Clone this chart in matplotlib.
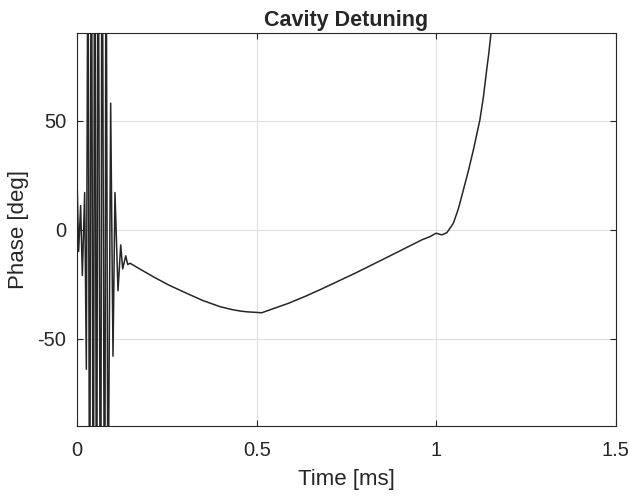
import numpy as np
import matplotlib
matplotlib.use('Agg')
import matplotlib.pyplot as plt

# ---- data ----
# ringing at the start (extremes of the oscillation), time in ms, phase in deg
osc_t = [0.0, 0.0037, 0.0093, 0.0140, 0.0205, 0.0252, 0.0298, 0.0344, 0.0391, 0.0446,
         0.0484, 0.0540, 0.0576, 0.0651, 0.0688, 0.0763, 0.0800, 0.0855, 0.0930, 0.0995,
         0.1050, 0.1134, 0.1210, 0.1265, 0.1349, 0.1405]
osc_v = [18, -10, 11, -21, 17, -64, 160, -180, 200, -200,
         200, -200, 200, -200, 200, -190, 170, -150, 58, -58,
         17, -28, -7, -18, -12, -16]
# smooth part afterwards
curve_t = [0.1469, 0.180, 0.2118, 0.255, 0.3049, 0.350, 0.3977, 0.430, 0.4535, 0.475,
           0.4953, 0.514, 0.550, 0.588, 0.635, 0.681, 0.774, 0.867, 0.960, 0.983,
           1.000, 1.016, 1.030, 1.048, 1.062, 1.076, 1.090, 1.104, 1.122, 1.132,
           1.141, 1.147, 1.153, 1.159]
curve_v = [-15.4, -18.6, -21.6, -25.4, -29.2, -32.5, -35.3, -36.6, -37.3, -37.7,
           -37.9, -38.1, -36.0, -33.8, -30.6, -27.2, -20.0, -12.4, -4.7, -3.2,
           -1.65, -2.4, -1.4, 2.9, 9.5, 18.2, 27.0, 36.6, 50.3, 61.0,
           73.3, 81.0, 90.1, 100]

xticks = [0, 0.5, 1, 1.5]
xticklabels = ['0', '0.5', '1', '1.5']
yticks = [-50, 0, 50]
yticklabels = ['-50', '0', '50']

t = osc_t + curve_t
v = osc_v + curve_v

plt.rcParams['font.family'] = ['Liberation Sans', 'DejaVu Sans']
plt.rcParams['axes.unicode_minus'] = False

dark = '#262626'
fig = plt.figure(figsize=(6.3, 4.98), dpi=100)
ax = fig.add_axes([0.1227, 0.1446, 0.8543, 0.7886])

ax.plot(t, v, color=dark, linewidth=1.1, solid_joinstyle='round')

ax.set_xlim(0, 1.5)
ax.set_ylim(-90, 90)
ax.set_xticks(xticks)
ax.set_xticklabels(xticklabels)
ax.set_yticks(yticks)
ax.set_yticklabels(yticklabels)
ax.grid(True, color='#dfdfdf', linewidth=0.8)
ax.set_axisbelow(True)
ax.tick_params(direction='in', top=True, right=True, length=4, width=0.8,
               colors=dark, labelsize=14.5)
ax.tick_params(axis='x', pad=11)
ax.tick_params(axis='y', pad=8)
for s in ax.spines.values():
    s.set_color(dark)
    s.set_linewidth(0.8)

ax.set_xlabel('Time [ms]', fontsize=16, color=dark, labelpad=6)
ax.set_ylabel('Phase [deg]', fontsize=16, color=dark, labelpad=6)
ax.set_title('Cavity Detuning', fontsize=15.5, fontweight='bold', color=dark, pad=5)

fig.savefig('out.png', dpi=100)
